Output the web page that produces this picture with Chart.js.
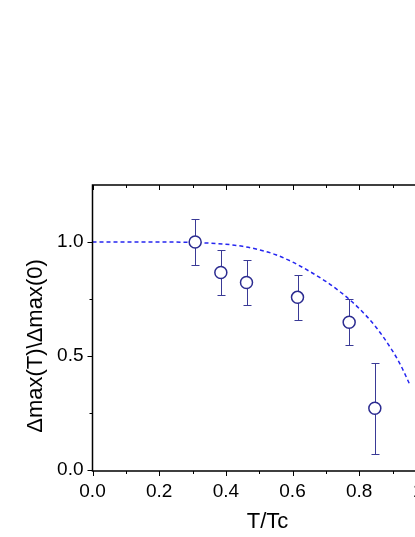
<!DOCTYPE html>
<html>
<head>
<meta charset="utf-8">
<script src="https://cdn.jsdelivr.net/npm/chart.js@4.4.0/dist/chart.umd.min.js"></script>
<style>
  html, body { margin: 0; padding: 0; background: #fff; overflow: hidden; }
  #wrap { width: 450px; height: 537px; }
</style>
</head>
<body>
<div id="wrap"><canvas id="myChart" width="450" height="537"></canvas></div>
<script>
// measured points
const tempRatio = [0.308, 0.385, 0.462, 0.615, 0.77, 0.847];
const gapRatio = [1.0, 0.866, 0.822, 0.757, 0.648, 0.27];
const gapError = [0.1, 0.1, 0.1, 0.1, 0.1, 0.2];

// dashed curve
const fitT = [0, 0.1, 0.2, 0.3, 0.4, 0.45, 0.5, 0.55, 0.6, 0.65, 0.7, 0.75, 0.8, 0.85, 0.9, 0.925, 0.95];
const fitGap = [1.0, 1.0, 1.0, 0.998, 0.99, 0.981, 0.966, 0.944, 0.912, 0.872, 0.827, 0.773, 0.708, 0.627, 0.522, 0.458, 0.38];

// ticks
const xTickValues = [0, 0.1, 0.2, 0.3, 0.4, 0.5, 0.6, 0.7, 0.8, 0.9, 1.0];
const xTickLabels = ["0.0", "", "0.2", "", "0.4", "", "0.6", "", "0.8", "", "1.0"];
const yTickValues = [0, 0.25, 0.5, 0.75, 1.0];
const yTickLabels = ["0.0", "", "0.5", "", "1.0"];

const FONT = "'Liberation Sans', Arial, sans-serif";

const errorBars = {
  id: "errorBars",
  beforeDatasetsDraw(chart) {
    const { ctx, scales: { x, y } } = chart;
    ctx.save();
    ctx.strokeStyle = "#3a3a96";
    ctx.lineWidth = 1;
    tempRatio.forEach((t, i) => {
      const px = Math.round(x.getPixelForValue(t)) + 0.5;
      const top = Math.round(y.getPixelForValue(gapRatio[i] + gapError[i])) + 0.5;
      const bot = Math.round(y.getPixelForValue(gapRatio[i] - gapError[i])) + 0.5;
      ctx.beginPath();
      ctx.moveTo(px, top);
      ctx.lineTo(px, bot);
      ctx.moveTo(px - 4, top);
      ctx.lineTo(px + 4, top);
      ctx.moveTo(px - 4, bot);
      ctx.lineTo(px + 4, bot);
      ctx.stroke();
    });
    ctx.restore();
  },
};

const frame = {
  id: "frame",
  afterDraw(chart) {
    const { ctx, chartArea: a, scales: { x, y } } = chart;
    ctx.save();
    ctx.strokeStyle = "#000";
    ctx.lineWidth = 1.5;
    ctx.beginPath();
    ctx.moveTo(a.left, a.top);
    ctx.lineTo(a.right, a.top);
    ctx.lineTo(a.right, a.bottom);
    ctx.lineTo(a.left, a.bottom);
    ctx.closePath();
    ctx.stroke();

    ctx.lineWidth = 1;
    ctx.beginPath();
    xTickValues.forEach((v, i) => {
      const px = Math.round(x.getPixelForValue(v)) + 0.5;
      const len = xTickLabels[i] ? 5 : 3;
      ctx.moveTo(px, a.bottom);
      ctx.lineTo(px, a.bottom + len);
      ctx.moveTo(px, a.top);
      ctx.lineTo(px, a.top + len);
    });
    yTickValues.forEach((v, i) => {
      const py = Math.round(y.getPixelForValue(v)) + 0.5;
      const len = yTickLabels[i] ? 5 : 3;
      ctx.moveTo(a.left, py);
      ctx.lineTo(a.left - len, py);
    });
    ctx.stroke();

    // axis titles
    ctx.fillStyle = "#000";
    ctx.font = "22px " + FONT;
    ctx.textAlign = "center";
    ctx.textBaseline = "middle";
    ctx.fillText("T/Tc", (a.left + a.right) / 2, 522);
    ctx.translate(36, 346);
    ctx.rotate(-Math.PI / 2);
    ctx.fillText("\u0394max(T)\\\u0394max(0)", 0, 0);
    ctx.restore();
  },
};

const ctx = document.getElementById("myChart");

new Chart(ctx, {
  type: "scatter",
  data: {
    datasets: [
      {
        label: "data",
        data: tempRatio.map((t, i) => ({ x: t, y: gapRatio[i] })),
        showLine: false,
        pointRadius: 6,
        pointHoverRadius: 6,
        pointBorderWidth: 1.5,
        pointBorderColor: "#2b2b90",
        pointBackgroundColor: "#ffffff",
        order: 0,
      },
      {
        label: "fit",
        data: fitT.map((t, i) => ({ x: t, y: fitGap[i] })),
        showLine: true,
        pointRadius: 0,
        borderColor: "#2626f0",
        borderWidth: 1.5,
        borderDash: [4, 3],
        cubicInterpolationMode: "monotone",
        order: 1,
      },
    ],
  },
  options: {
    responsive: false,
    devicePixelRatio: 1,
    animation: false,
    layout: { padding: { top: 185, right: 2, bottom: 0, left: 0 } },
    plugins: { legend: { display: false }, tooltip: { enabled: false } },
    scales: {
      x: {
        type: "linear",
        min: 0,
        max: 1.05,
        afterFit: (s) => { s.height = 66; },
        afterBuildTicks: (s) => { s.ticks = xTickValues.map((v) => ({ value: v })); },
        grid: { display: false, drawTicks: false },
        border: { display: false },
        ticks: {
          autoSkip: false,
          maxRotation: 0,
          padding: 9,
          color: "#000",
          font: { family: FONT, size: 19 },
          callback: (v, i) => xTickLabels[i],
        },
      },
      y: {
        type: "linear",
        min: -0.005,
        max: 1.25,
        afterFit: (s) => { s.width = 92.5; },
        afterBuildTicks: (s) => { s.ticks = yTickValues.map((v) => ({ value: v })); },
        grid: { display: false, drawTicks: false },
        border: { display: false },
        ticks: {
          autoSkip: false,
          padding: 9,
          color: "#000",
          font: { family: FONT, size: 19 },
          callback: (v, i) => yTickLabels[i],
        },
      },
    },
  },
  plugins: [errorBars, frame],
});
</script>
</body>
</html>
